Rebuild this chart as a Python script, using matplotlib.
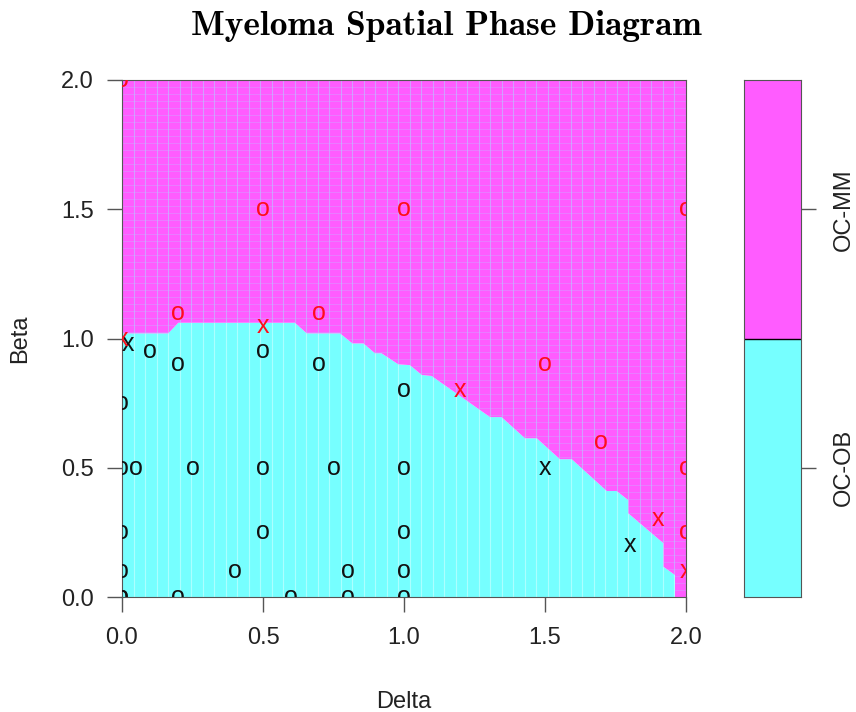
import matplotlib
matplotlib.use("Agg")
import matplotlib.pyplot as plt
import numpy as np
from matplotlib.patches import Polygon

plt.rcParams['font.family'] = ['Liberation Sans', 'DejaVu Sans']

# phase boundary between OC-OB (below) and OC-MM (above)
bound_delta = [0.0, 0.164, 0.200, 0.613, 0.655, 0.773, 0.817, 0.856, 0.897, 0.920,
               0.980, 1.021, 1.063, 1.098, 1.305, 1.346, 1.429, 1.471, 1.553, 1.595,
               1.719, 1.754, 1.795, 1.795, 1.920, 1.920, 1.961, 1.961]
bound_beta = [1.020, 1.020, 1.061, 1.061, 1.020, 1.020, 0.981, 0.981, 0.943, 0.943,
              0.900, 0.897, 0.859, 0.855, 0.696, 0.696, 0.614, 0.614, 0.533, 0.533,
              0.410, 0.410, 0.375, 0.324, 0.208, 0.117, 0.085, 0.0]

# simulated points: symbol and phase (0 = OC-OB, 1 = OC-MM)
pt_delta = [0.0, 0.02, 0.1, 0.2, 0.5, 0.7, 0.0, 0.0, 0.05, 0.25, 0.5, 0.75, 1.0,
            0.0, 0.5, 1.0, 0.0, 0.4, 0.8, 1.0, 0.0, 0.2, 0.6, 0.8, 1.0, 1.0,
            1.5, 1.8,
            0.0, 0.0, 0.5, 1.0, 2.0, 0.2, 0.5, 0.7, 1.2, 1.5, 1.7, 1.9, 2.0, 2.0, 2.0]
pt_beta = [0.0, 0.98, 0.95, 0.9, 0.95, 0.9, 0.75, 0.5, 0.5, 0.5, 0.5, 0.5, 0.5,
           0.25, 0.25, 0.25, 0.1, 0.1, 0.1, 0.1, 0.0, 0.0, 0.0, 0.0, 0.0, 0.8,
           0.5, 0.2,
           2.0, 1.0, 1.5, 1.5, 1.5, 1.1, 1.05, 1.1, 0.8, 0.9, 0.6, 0.3, 0.5, 0.25, 0.1]
pt_symbol = ['o', 'x', 'o', 'o', 'o', 'o', 'o', 'o', 'o', 'o', 'o', 'o', 'o',
             'o', 'o', 'o', 'o', 'o', 'o', 'o', 'o', 'o', 'o', 'o', 'o', 'o',
             'x', 'x',
             'o', 'x', 'o', 'o', 'o', 'o', 'x', 'o', 'x', 'o', 'o', 'x', 'o', 'o', 'x']
pt_phase = [0] * 28 + [1] * 15

phase_names = ['OC-OB', 'OC-MM']
phase_colors = ['#76ffff', '#ff5cff']
text_colors = ['#111111', '#ff0d1a']

font = 17

fig = plt.figure(figsize=(8.56, 7.12), dpi=100)
ax = fig.add_axes([122/856, 115/712, 564/856, 517/712])
cax = fig.add_axes([744/856, 115/712, 57/856, 517/712])

low = list(zip(bound_delta, bound_beta)) + [(2.0, 0.0), (0.0, 0.0)]
high = list(zip(bound_delta, bound_beta)) + [(2.0, 0.0), (2.0, 2.0), (0.0, 2.0)]
p_low = Polygon(low, closed=True, facecolor=phase_colors[0], edgecolor='none')
p_high = Polygon(high, closed=True, facecolor=phase_colors[1], edgecolor='none')
ax.add_patch(p_low)
ax.add_patch(p_high)

# faint raster seams of the original image
cols = np.linspace(0, 2, 50)
rows = np.linspace(0, 2, 75)
v1 = ax.vlines(cols, 0, 2, colors='white', linewidth=0.8, alpha=0.4)
v1.set_clip_path(p_low)
v2 = ax.vlines(cols, 0, 2, colors='#b8c8ff', linewidth=0.8, alpha=0.6)
v2.set_clip_path(p_high)
h2 = ax.hlines(rows, 0, 2, colors='#b8c8ff', linewidth=0.6, alpha=0.35)
h2.set_clip_path(p_high)

for d, b, s, ph in zip(pt_delta, pt_beta, pt_symbol, pt_phase):
    ax.text(d, b, s, color=text_colors[ph], fontsize=18, ha='center', va='center',
            clip_on=True)

ax.set_xlim(0, 2)
ax.set_ylim(0, 2)
ticks = [0.0, 0.5, 1.0, 1.5, 2.0]
ax.set_xticks(ticks)
ax.set_yticks(ticks)
ax.set_xticklabels([f"{t:.1f}" for t in ticks])
ax.set_yticklabels([f"{t:.1f}" for t in ticks])
ax.tick_params(direction='out', length=10.5, width=1, color='#555555',
               labelsize=font, labelcolor='#222222')
ax.tick_params(axis='x', pad=11)
ax.tick_params(axis='y', pad=10)
for sp in ax.spines.values():
    sp.set_color('#555555')
ax.set_xlabel('Delta', fontsize=font, labelpad=30, color='#222222')
ax.set_ylabel('Beta', fontsize=font, labelpad=21, color='#222222')

# legend bar
cax.bar(0, [1, 1], bottom=[0, 1], width=1, color=phase_colors, edgecolor='none')
cax.axhline(1, color='black', linewidth=1)
cax.set_xlim(-0.5, 0.5)
cax.set_ylim(0, 2)
cax.set_xticks([])
cax.yaxis.tick_right()
cax.set_yticks([0.5, 1.5])
cax.set_yticklabels(phase_names, rotation=90, va='center')
cax.tick_params(direction='out', length=11, width=1, color='#555555',
                labelsize=font, labelcolor='#222222', pad=12)
for sp in cax.spines.values():
    sp.set_color('#555555')

fig.text(446/856, 1 - 26/712, 'Myeloma Spatial Phase Diagram', fontfamily='cmb10',
         fontsize=25.5, ha='center', va='center')

fig.savefig('out.png', dpi=100)
